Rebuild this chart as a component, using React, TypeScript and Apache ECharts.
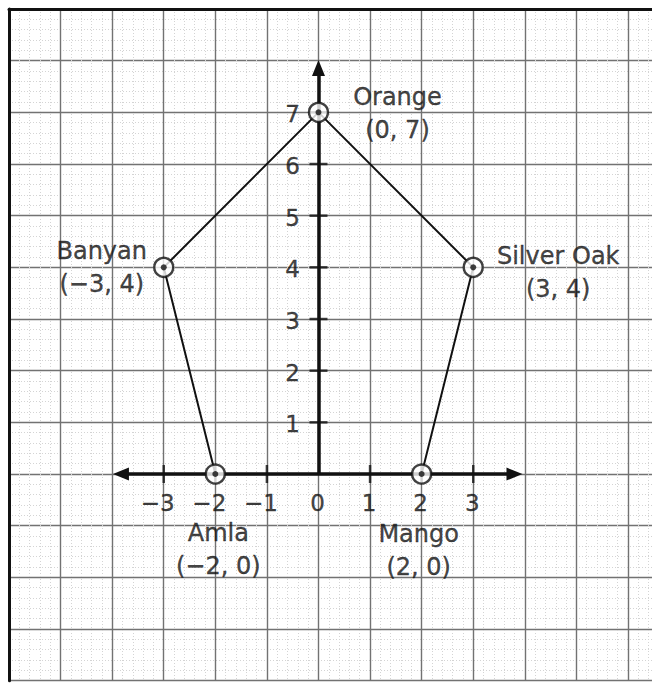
import React, { useEffect, useRef } from "react";
import * as echarts from "echarts";

// ---- data ----
const treeNames = ["Orange", "Silver Oak", "Mango", "Amla", "Banyan"];
const treeX = [0, 3, 2, -2, -3];
const treeY = [7, 4, 0, 0, 4];

const xTickValues = [-3, -2, -1, 0, 1, 2, 3];
const xTickLabels = ["−3", "−2", "−1", "0", "1", "2", "3"];
const yTickValues = [1, 2, 3, 4, 5, 6, 7];
const yTickLabels = ["1", "2", "3", "4", "5", "6", "7"];

// axis extents (data units) for the drawn coordinate axes (arrow centres)
const xAxisArrowEnds = [-3.83, 3.8];
const yAxisArrowEnd = 7.86;

// ---- styling ----
const labelOffsets: Record<string, [number, number]> = {
  Orange: [79, 1],
  "Silver Oak": [85, 5],
  Mango: [-3, 76],
  Amla: [3, 75],
  Banyan: [-62, 0],
};

const INK = "#111";
const FONT = "DejaVu Sans";
const textInk = {
  color: "#111",
  textBorderColor: "#111",
  textBorderWidth: 0.35,
  fontFamily: FONT,
};

const fmt = (n: number) => (n < 0 ? "−" + Math.abs(n) : String(n));

export default function App() {
  const ref = useRef<HTMLDivElement>(null);

  useEffect(() => {
    document.body.style.margin = "0";
    if (!ref.current) return;
    const chart = echarts.init(ref.current, undefined, { renderer: "svg" });

    const polygon = treeX.map((x, i) => [x, treeY[i]]);
    polygon.push([treeX[0], treeY[0]]);

    const majorLine = { color: "#727272", width: 1.4, type: "solid" as const };
    const minorLine = { color: "#d4d4d4", width: 1, type: [1, 2] as any };

    const option: any = {
      animation: false,
      backgroundColor: "#fff",
      grid: { left: 9, top: 9, right: 0, bottom: 5.3, outerBoundsMode: "none" },
      xAxis: {
        type: "value",
        min: -6,
        max: 6.466,
        interval: 1,
        position: "top",
        axisLine: { show: true, onZero: false, lineStyle: { color: INK, width: 3 } },
        axisTick: { show: false },
        axisLabel: { show: false },
        splitLine: { show: true, showMinLine: false, showMaxLine: false, lineStyle: majorLine },
        minorTick: { show: false, splitNumber: 5 },
        minorSplitLine: { show: true, lineStyle: minorLine },
      },
      yAxis: {
        type: "value",
        min: -4,
        max: 9,
        interval: 1,
        position: "left",
        axisLine: { show: true, onZero: false, lineStyle: { color: INK, width: 3 } },
        axisTick: { show: false },
        axisLabel: { show: false },
        splitLine: { show: true, showMinLine: true, showMaxLine: false, lineStyle: majorLine },
        minorTick: { show: false, splitNumber: 5 },
        minorSplitLine: { show: true, lineStyle: minorLine },
      },
      series: [
        {
          type: "line",
          data: polygon,
          symbol: "none",
          z: 3,
          silent: true,
          lineStyle: { color: INK, width: 2 },
          markLine: {
            silent: true,
            symbolSize: [13, 16],
            label: { show: false },
            lineStyle: { color: INK, width: 3.5, type: "solid" },
            emphasis: { disabled: true },
            data: [
              [
                { coord: [xAxisArrowEnds[0], 0], symbol: "triangle" },
                { coord: [xAxisArrowEnds[1], 0], symbol: "triangle" },
              ],
              [
                { coord: [0, 0], symbol: "none" },
                { coord: [0, yAxisArrowEnd], symbol: "triangle" },
              ],
            ],
          },
        },
        {
          type: "scatter",
          data: xTickValues.filter((v) => v !== 0).map((v) => [v, 0]),
          symbol: "rect",
          symbolSize: [2.5, 18],
          itemStyle: { color: INK },
          z: 4,
          silent: true,
        },
        {
          type: "scatter",
          data: yTickValues.map((v) => [0, v]),
          symbol: "rect",
          symbolSize: [18, 2.5],
          itemStyle: { color: INK },
          z: 4,
          silent: true,
        },
        {
          type: "scatter",
          data: xTickValues.map((v, i) => ({
            value: [v, 0],
            label: { offset: [v < 0 ? -6 : -1, 29] },
            name: xTickLabels[i],
          })),
          symbolSize: 1,
          itemStyle: { color: "rgba(0,0,0,0)" },
          z: 4,
          silent: true,
          label: {
            show: true,
            position: "inside",
            formatter: (p: any) => xTickLabels[p.dataIndex],
            fontSize: 23,
            ...textInk,
          },
        },
        {
          type: "scatter",
          data: yTickValues.map((v) => [0, v]),
          symbolSize: 1,
          itemStyle: { color: "rgba(0,0,0,0)" },
          z: 4,
          silent: true,
          label: {
            show: true,
            position: "inside",
            offset: [-26, 2],
            formatter: (p: any) => yTickLabels[p.dataIndex],
            fontSize: 23,
            ...textInk,
          },
        },
        {
          type: "scatter",
          data: treeX.map((x, i) => ({
            value: [x, treeY[i]],
            name: treeNames[i],
            label: { offset: labelOffsets[treeNames[i]] },
          })),
          symbol: "circle",
          symbolSize: 19,
          itemStyle: { color: "#fff", borderColor: INK, borderWidth: 2.4 },
          z: 5,
          silent: true,
          label: {
            show: true,
            position: "inside",
            align: "center",
            verticalAlign: "middle",
            lineHeight: 33,
            fontSize: 24,
            ...textInk,
            formatter: (p: any) =>
              `${treeNames[p.dataIndex]}\n(${fmt(treeX[p.dataIndex])}, ${fmt(treeY[p.dataIndex])})`,
          },
        },
        {
          type: "scatter",
          data: treeX.map((x, i) => [x, treeY[i]]),
          symbol: "circle",
          symbolSize: 6,
          itemStyle: { color: INK },
          z: 6,
          silent: true,
        },
      ],
    };

    chart.setOption(option);
    return () => chart.dispose();
  }, []);

  return <div ref={ref} style={{ width: 652, height: 686 }} />;
}
